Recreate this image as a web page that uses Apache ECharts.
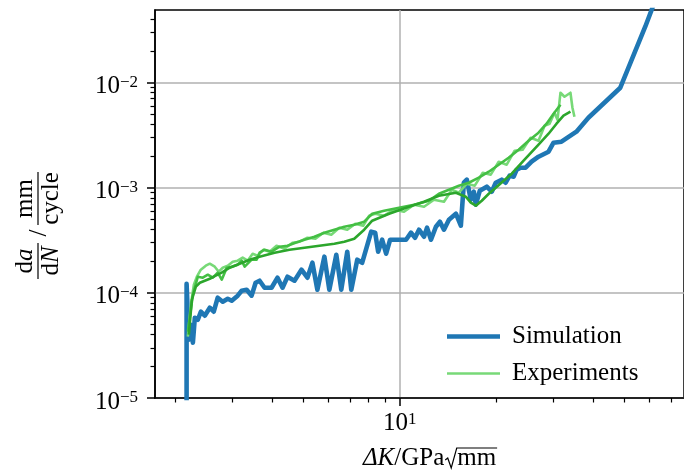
<!DOCTYPE html>
<html>
<head>
<meta charset="utf-8">
<script src="https://cdn.jsdelivr.net/npm/echarts@6/dist/echarts.min.js"></script>
<style>
  html, body { margin: 0; padding: 0; background: #fff; }
  #chart { width: 684px; height: 476px; }
</style>
</head>
<body>
<div id="chart"></div>
<script>
// simulated crack growth rate (thick blue)
const simX = [2.165, 2.165, 2.200, 2.233, 2.265, 2.297, 2.347, 2.398, 2.467, 2.557, 2.631, 2.707, 2.806, 2.909, 2.993, 3.124, 3.215, 3.332, 3.453, 3.553, 3.656, 3.789, 3.984, 4.158, 4.310, 4.467, 4.696, 4.938, 5.154, 5.341, 5.536, 5.820, 6.031, 6.341, 6.571, 6.860, 7.060, 7.369, 7.636, 8.146, 8.381, 8.562, 8.810, 9.067, 9.330, 10.46, 10.84, 11.16, 11.48, 11.90, 12.16, 12.51, 12.96, 13.34, 13.73, 14.23, 14.96, 15.50, 15.84, 16.18, 16.65, 17.01, 17.26, 17.76, 18.67, 19.35, 19.91, 20.78, 21.38, 22.00, 22.65, 23.14, 23.81, 24.67, 25.75, 27.07, 29.09, 30.15, 31.92, 35.53, 38.72, 48.68, 58.22, 66.19];
const simY = [5e-6, 1.22e-4, 3.58e-5, 4.98e-5, 3.36e-5, 5.80e-5, 5.55e-5, 6.61e-5, 6.06e-5, 7.22e-5, 6.61e-5, 8.98e-5, 8.23e-5, 8.79e-5, 8.41e-5, 9.39e-5, 1.047e-4, 1.070e-4, 9.39e-5, 1.247e-4, 1.303e-4, 1.118e-4, 1.118e-4, 1.392e-4, 1.118e-4, 1.422e-4, 1.303e-4, 1.658e-4, 1.392e-4, 1.932e-4, 1.070e-4, 2.204e-4, 1.070e-4, 2.302e-4, 1.070e-4, 2.459e-4, 1.070e-4, 2.064e-4, 1.932e-4, 3.809e-4, 3.727e-4, 2.459e-4, 3.197e-4, 2.353e-4, 3.197e-4, 3.197e-4, 3.727e-4, 3.341e-4, 3.980e-4, 3.415e-4, 4.157e-4, 3.197e-4, 4.249e-4, 4.742e-4, 3.980e-4, 4.954e-4, 5.648e-4, 4.343e-4, 1.113e-3, 1.189e-3, 7.674e-4, 9.14e-4, 6.88e-4, 9.34e-4, 1.020e-3, 9.14e-4, 1.113e-3, 1.189e-3, 1.113e-3, 1.298e-3, 1.270e-3, 1.480e-3, 1.546e-3, 1.546e-3, 1.763e-3, 1.967e-3, 2.194e-3, 2.673e-3, 2.732e-3, 3.400e-3, 4.618e-3, 8.903e-3, 3.384e-2, 9.47e-2];

// three experimental runs (greens)
const exp1X = [2.184, 2.233, 2.281, 2.331, 2.398, 2.485, 2.557, 2.650, 2.727, 2.806, 2.909, 3.015, 3.124, 3.238, 3.356, 3.478, 3.604, 3.762, 3.928, 4.129, 4.372, 4.629, 4.868, 5.154, 5.458, 5.778, 6.117, 6.478, 6.860, 7.264, 7.691, 8.030, 8.381, 8.938, 9.601, 10.31, 11.08, 11.90, 12.78, 13.73, 14.54, 15.28, 16.18, 17.13, 18.14, 19.21, 20.34, 21.54, 22.81, 24.15, 25.57, 27.07, 28.27, 29.30, 30.36, 31.02, 31.69, 32.62, 33.32, 34.04, 34.53, 35.03];
const exp1Y = [3.83e-5, 7.71e-5, 1.194e-4, 1.422e-4, 1.658e-4, 1.810e-4, 1.891e-4, 1.771e-4, 1.587e-4, 1.732e-4, 1.810e-4, 1.975e-4, 2.019e-4, 2.157e-4, 2.019e-4, 2.353e-4, 2.253e-4, 2.569e-4, 2.459e-4, 2.804e-4, 2.626e-4, 2.994e-4, 3.060e-4, 3.341e-4, 3.268e-4, 3.727e-4, 3.567e-4, 4.157e-4, 3.980e-4, 4.537e-4, 4.343e-4, 5.407e-4, 5.648e-4, 5.407e-4, 6.165e-4, 5.901e-4, 6.88e-4, 6.583e-4, 7.674e-4, 7.345e-4, 9.55e-4, 8.944e-4, 1.089e-3, 1.043e-3, 1.386e-3, 1.327e-3, 1.763e-3, 1.651e-3, 2.243e-3, 2.293e-3, 2.981e-3, 2.792e-3, 3.877e-3, 4.050e-3, 5.152e-3, 4.420e-3, 7.981e-3, 7.313e-3, 7.640e-3, 7.981e-3, 5.748e-3, 4.721e-3];
const exp2X = [2.184, 2.265, 2.347, 2.432, 2.521, 2.613, 2.707, 2.786, 2.888, 2.993, 3.124, 3.215, 3.285, 3.453, 3.579, 3.656, 3.789, 3.984, 4.219, 4.467, 4.729, 5.045, 5.420, 5.820, 6.252, 6.714, 7.212, 7.746, 8.204, 8.938, 9.950, 11.08, 12.33, 13.24, 14.23, 15.28, 16.41, 17.63, 18.94, 20.34, 21.84, 23.47, 25.21, 27.07, 28.68, 30.15, 31.69];
const exp2Y = [4.268e-5, 9.59e-5, 1.422e-4, 1.392e-4, 1.486e-4, 1.392e-4, 1.553e-4, 1.332e-4, 1.732e-4, 1.771e-4, 1.850e-4, 2.019e-4, 1.771e-4, 2.064e-4, 2.064e-4, 2.405e-4, 2.569e-4, 2.459e-4, 2.743e-4, 2.804e-4, 2.994e-4, 3.197e-4, 3.415e-4, 3.727e-4, 3.980e-4, 4.249e-4, 4.439e-4, 4.742e-4, 5.648e-4, 6.032e-4, 6.441e-4, 6.88e-4, 7.508e-4, 8.750e-4, 9.55e-4, 1.043e-3, 1.113e-3, 1.242e-3, 1.416e-3, 1.651e-3, 1.924e-3, 2.293e-3, 2.792e-3, 3.326e-3, 4.050e-3, 5.041e-3, 6.138e-3];
const exp3X = [2.200, 2.249, 2.314, 2.381, 2.467, 2.557, 2.669, 2.786, 2.951, 3.169, 3.404, 3.656, 4.070, 4.531, 5.045, 5.616, 6.252, 6.714, 7.212, 7.746, 8.204, 9.264, 10.46, 11.90, 13.24, 14.96, 16.06, 16.65, 17.26, 18.01, 18.94, 19.91, 21.08, 22.33, 24.32, 27.07, 29.09, 30.80, 32.38, 34.04];
const exp3Y = [3.997e-5, 8.60e-5, 1.143e-4, 1.247e-4, 1.303e-4, 1.361e-4, 1.454e-4, 1.553e-4, 1.732e-4, 1.891e-4, 2.064e-4, 2.204e-4, 2.405e-4, 2.569e-4, 2.684e-4, 2.804e-4, 2.929e-4, 3.060e-4, 3.268e-4, 3.980e-4, 4.845e-4, 5.648e-4, 6.441e-4, 7.345e-4, 8.375e-4, 8.944e-4, 8.196e-4, 7.187e-4, 6.729e-4, 7.508e-4, 8.750e-4, 9.98e-4, 1.163e-3, 1.356e-3, 1.802e-3, 2.557e-3, 3.254e-3, 4.050e-3, 4.826e-3, 5.266e-3];

// axis ticks
const xMajorTicks = [10];
const xMinorTicks = [2, 3, 4, 5, 6, 7, 8, 9, 20, 30, 40, 50, 60, 70];
const yMajorTicks = [1e-5, 1e-4, 1e-3, 1e-2];
const yMinorTicks = [2e-5, 3e-5, 4e-5, 5e-5, 6e-5, 7e-5, 8e-5, 9e-5,
  2e-4, 3e-4, 4e-4, 5e-4, 6e-4, 7e-4, 8e-4, 9e-4,
  2e-3, 3e-3, 4e-3, 5e-3, 6e-3, 7e-3, 8e-3, 9e-3,
  2e-2, 3e-2, 4e-2];

const X_MIN = 1.7258, X_MAX = 76.9;
const Y_MIN = 1e-5, Y_MAX = 0.0488;

const FONT = "'Liberation Serif', 'DejaVu Serif', serif";
const FS = 25;

const SIM_W = 4.6, EXP_W = 2.6;

const pairs = (xs, ys) => xs.map((x, i) => [x, ys[i]]);

function powLabel(v) {
  const l = Math.log10(v);
  const e = Math.round(l);
  if (Math.abs(l - e) > 1e-6) return '';
  return '{b|10}{s|' + String(e).replace('-', '\u2212') + '}';
}

const labelRich = {
  b: { fontFamily: FONT, fontSize: FS, color: '#000', lineHeight: 25 },
  s: { fontFamily: FONT, fontSize: 17, color: '#000', verticalAlign: 'top', lineHeight: 14 }
};

// text measuring for the hand-set axis names
const mctx = document.createElement('canvas').getContext('2d');
function textWidth(s, italic) {
  mctx.font = (italic ? 'italic ' : '') + FS + 'px ' + FONT;
  return mctx.measureText(s).width;
}

function xNameGraphic() {
  const mid = 458.6;   // em-middle of the baseline at ~467
  const wDK = textWidth('\u0394K', true);
  const wGPa = textWidth('/GPa', false);
  const wmm = textWidth('mm', false);
  const rootW = 12;
  const total = wDK + wGPa + rootW + wmm;
  const x0 = 429 - total / 2;
  const sx = x0 + wDK + wGPa + 1;
  const font = FS + 'px ' + FONT;
  return [
    { type: 'text', x: x0, y: mid, style: { text: '\u0394K', font: 'italic ' + font, fill: '#000', align: 'left', verticalAlign: 'middle', textAlign: 'left', textVerticalAlign: 'middle' } },
    { type: 'text', x: x0 + wDK, y: mid, style: { text: '/GPa', font: font, fill: '#000', align: 'left', verticalAlign: 'middle', textAlign: 'left', textVerticalAlign: 'middle' } },
    { type: 'polyline', shape: { points: [[sx, 460], [sx + 2.5, 458], [sx + 6, 468], [sx + 11.5, 448], [sx + rootW + wmm + 1, 448]] }, style: { stroke: '#000', lineWidth: 1.2, fill: null } },
    { type: 'text', x: sx + rootW, y: mid, style: { text: 'mm', font: font, fill: '#000', align: 'left', verticalAlign: 'middle', textAlign: 'left', textVerticalAlign: 'middle' } }
  ];
}

function yNameGraphic() {
  const rich = {
    u: { fontFamily: FONT, fontSize: FS, color: '#000' },
    i: { fontFamily: FONT, fontSize: FS, fontStyle: 'italic', color: '#000' }
  };
  const numY = -12.4, denY = 13.6;
  const txt = (t, x, y) => ({
    type: 'text', x: x, y: y,
    style: { text: t, rich: rich, font: FS + 'px ' + FONT, fill: '#000', align: 'center', verticalAlign: 'middle', textAlign: 'center', textVerticalAlign: 'middle' }
  });
  const bar = (a, b) => ({ type: 'line', shape: { x1: a, y1: 0, x2: b, y2: 0 }, style: { stroke: '#000', lineWidth: 1.2 } });
  return {
    type: 'group', x: 38, y: 226, rotation: Math.PI / 2,
    children: [
      txt('{u|d}{i|a}', -35, numY),
      txt('{u|d}{i|N}', -35, denY),
      bar(-53, -17),
      txt('{u|/}', -7, 1),
      txt('{u|mm}', 27.5, numY),
      txt('{u|cycle}', 27.5, denY),
      bar(1, 54)
    ]
  };
}

const chart = echarts.init(document.getElementById('chart'), null, { renderer: 'canvas' });

const lineBase = { type: 'line', symbol: 'none', showSymbol: false, clip: true, animation: false };

chart.setOption({
  animation: false,
  backgroundColor: '#fff',
  grid: { left: 155, right: -2, top: 10, bottom: 78, show: true, borderColor: '#000', borderWidth: 1.5, backgroundColor: 'transparent' },
  legend: {
    // flat bar icons stand in for plain line samples
    data: [
      { name: 'Simulation', icon: 'path://M0,0H53V' + SIM_W + 'H0Z' },
      { name: 'Experiments', icon: 'path://M0,0H53V' + EXP_W + 'H0Z' }
    ],
    orient: 'vertical', left: 442, top: 319,
    itemWidth: 53, itemHeight: 14, itemGap: 12,
    selectedMode: false,
    textStyle: { fontFamily: FONT, fontSize: FS, color: '#000', padding: [0, 0, 0, 7] }
  },
  xAxis: [
    {
      type: 'log', logBase: 10, min: X_MIN, max: X_MAX,
      axisLine: { lineStyle: { color: '#000', width: 1.5 } },
      axisTick: { customValues: xMajorTicks, length: 8, lineStyle: { color: '#000', width: 1.5 } },
      axisLabel: { customValues: xMajorTicks, formatter: powLabel, margin: 13, rich: labelRich },
      splitLine: { show: true, lineStyle: { color: '#b0b0b0', width: 1.5 } }
    },
    {
      type: 'log', logBase: 10, min: X_MIN, max: X_MAX, position: 'bottom', gridIndex: 0,
      axisLine: { show: false },
      axisTick: { customValues: xMinorTicks, length: 4.5, lineStyle: { color: '#000', width: 1.2 } },
      axisLabel: { show: false },
      splitLine: { show: false }
    }
  ],
  yAxis: [
    {
      type: 'log', logBase: 10, min: Y_MIN, max: Y_MAX,
      axisLine: { lineStyle: { color: '#000', width: 1.5 } },
      axisTick: { customValues: yMajorTicks, length: 8, lineStyle: { color: '#000', width: 1.5 } },
      axisLabel: { customValues: yMajorTicks, formatter: powLabel, margin: 17, rich: labelRich, padding: [8, 0, 0, 0] },
      splitLine: { show: true, lineStyle: { color: '#b0b0b0', width: 1.5 } }
    },
    {
      type: 'log', logBase: 10, min: Y_MIN, max: Y_MAX, position: 'left', gridIndex: 0,
      axisLine: { show: false },
      axisTick: { customValues: yMinorTicks, length: 4.5, lineStyle: { color: '#000', width: 1.2 } },
      axisLabel: { show: false },
      splitLine: { show: false }
    }
  ],
  series: [
    Object.assign({}, lineBase, { name: 'Simulation', data: pairs(simX, simY), color: '#1f77b4', lineStyle: { color: '#1f77b4', width: SIM_W, join: 'round', cap: 'round' }, z: 2 }),
    Object.assign({}, lineBase, { name: 'Experiments', data: pairs(exp1X, exp1Y), color: '#77d977', lineStyle: { color: '#77d977', width: EXP_W, join: 'round' }, z: 3 }),
    Object.assign({}, lineBase, { name: 'Experiments', data: pairs(exp2X, exp2Y), color: '#44bf44', lineStyle: { color: '#44bf44', width: EXP_W, join: 'round' }, z: 3 }),
    Object.assign({}, lineBase, { name: 'Experiments', data: pairs(exp3X, exp3Y), color: '#2ca62c', lineStyle: { color: '#2ca62c', width: EXP_W, join: 'round' }, z: 3 })
  ],
  graphic: xNameGraphic().concat([yNameGraphic()])
});
</script>
</body>
</html>
